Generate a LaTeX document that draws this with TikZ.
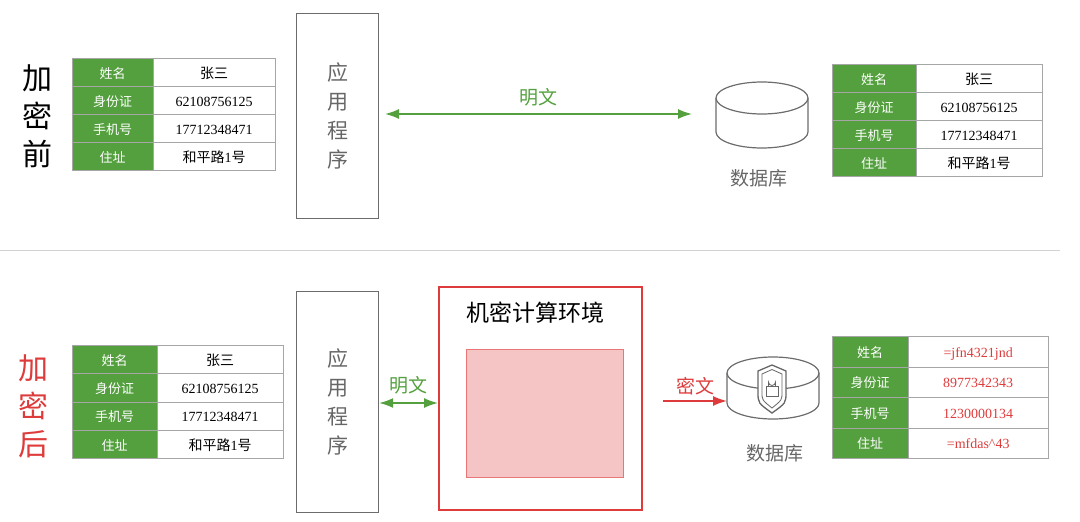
\documentclass[tikz,border=0pt]{standalone}
\usepackage{fontspec}
\setmainfont{Liberation Serif}
\newfontfamily\cjk{Noto Sans CJK SC}
\usetikzlibrary{arrows.meta,positioning}
\definecolor{tgreen}{RGB}{84,160,62}
\definecolor{ared}{RGB}{222,60,60}
\tikzset{
  keycell/.style={rectangle, draw=gray!70, fill=tgreen, text=white, font=\cjk\fontsize{13}{13}\selectfont, inner sep=0pt, text height=14pt, text depth=2pt},
  valcell/.style={rectangle, draw=gray!70, fill=white, font=\fontsize{14}{14}\selectfont, inner sep=0pt, text height=14pt, text depth=2pt},
  appbox/.style={rectangle, draw=gray!85!black, line width=1.2pt, inner sep=0pt},
  vtext/.style={font=\cjk\fontsize{21}{29}\selectfont, text=gray!80!black, align=center},
  dblabel/.style={font=\cjk\fontsize{19}{19}\selectfont, text=gray!80!black},
  dbline/.style={draw=gray!85!black, line width=1.2pt, fill=white},
  twoway/.style={{Latex[length=14pt,width=10pt]}-{Latex[length=14pt,width=10pt]}, line width=1.6pt, tgreen}
}
% table: x0 y0 key-width val-width row-height name value-colour keys values
\newcommand{\infotable}[9]{%
  \foreach \k [count=\i] in {#8} {
    \node[keycell, minimum width=#3pt, minimum height=#5pt, anchor=north west] (#6k\i) at (#1, {#2+(\i-1)*#5}) {\k};
  }
  \foreach \v [count=\i] in {#9} {
    \node[valcell, text=#7, minimum width=#4pt, minimum height=#5pt, anchor=north west] (#6v\i) at ({#1+#3}, {#2+(\i-1)*#5}) {\v};
  }
}
% cylinder: cx top bottom rx ry
\newcommand{\dbdrum}[5]{%
  \draw[dbline] ({#1-#4},#2) -- ({#1-#4},#3) arc[start angle=180, end angle=0, x radius=#4, y radius=#5] -- ({#1+#4},#2);
  \draw[dbline] (#1,#2) ellipse[x radius=#4, y radius=#5];
}
\begin{document}
\begin{tikzpicture}[x=1pt,y=-1pt]
\useasboundingbox (0,0) rectangle (1080,522);

% before encryption
\node[font=\cjk\fontsize{30}{38}\selectfont, align=center] (before) at (37,116) {加\\密\\前};
\infotable{72}{58}{81}{122}{28}{tl}{black}{姓名,身份证,手机号,住址}{{\cjk 张三},62108756125,17712348471,{\cjk 和平路}1{\cjk 号}}
\node[appbox, minimum width=82pt, minimum height=205pt, anchor=north west] (app1) at (296,13) {};
\node[vtext] at (app1) {应\\用\\程\\序};
\dbdrum{762}{98}{132}{46}{16}
\coordinate (db1) at (692,114);
\node[dblabel] (db1l) at (759,178) {数据库};
\coordinate (a1l) at (385,114);
\draw[twoway] (a1l) -- node[above=4pt, font=\cjk\fontsize{19}{19}\selectfont] {明文} (db1);
\infotable{832}{64}{84}{126}{28}{tr}{black}{姓名,身份证,手机号,住址}{{\cjk 张三},62108756125,17712348471,{\cjk 和平路}1{\cjk 号}}

\draw[gray!35, line width=0.8pt] (0,250) -- (1060,250);

% after encryption
\node[font=\cjk\fontsize{30}{38}\selectfont, align=center, text=ared] (after) at (33,406) {加\\密\\后};
\infotable{72}{345}{85}{126}{28.3}{bl}{black}{姓名,身份证,手机号,住址}{{\cjk 张三},62108756125,17712348471,{\cjk 和平路}1{\cjk 号}}
\node[appbox, minimum width=82pt, minimum height=221pt, anchor=north west] (app2) at (296,291) {};
\node[vtext] at (app2) {应\\用\\程\\序};
\node[rectangle, draw=ared, line width=2pt, minimum width=203pt, minimum height=223pt, anchor=north west] (env) at (438,286) {};
\node[font=\cjk\fontsize{23}{23}\selectfont] (envl) at (535,313) {机密计算环境};
\node[rectangle, draw=ared!70, fill=ared!30, line width=1pt, minimum width=157pt, minimum height=128pt, anchor=north west] (core) at (466,349) {};
\draw[twoway] (app2.east |- 0,403) -- node[above=5pt, font=\cjk\fontsize{19}{19}\selectfont] {明文} (env.west |- 0,403);
\dbdrum{773}{373}{403}{46}{16}
\coordinate (db2) at (727,401);
% shield with lock
\draw[gray!80!black, line width=1.3pt, fill=white] (758,371) -- (772,365) -- (786,371) -- (786,392) .. controls (786,403) .. (772,413) .. controls (758,403) .. (758,392) -- cycle;
\draw[gray!80!black, line width=0.8pt] (762,374) -- (772,369.5) -- (782,374) -- (782,392) .. controls (782,400) .. (772,408) .. controls (762,400) .. (762,392) -- cycle;
\draw[gray!80!black, line width=0.8pt, fill=white] (766,386) rectangle (778,396);
\draw[gray!80!black, line width=0.8pt] (768.5,386) -- (768.5,382) arc[start angle=180, end angle=0, radius=3.5] -- (775.5,386);
\node[dblabel] (db2l) at (775,453) {数据库};
\coordinate (a2l) at (663,401);
\draw[-{Latex[length=14pt,width=10pt]}, line width=1.6pt, ared] (a2l) -- node[above=2pt, font=\cjk\fontsize{19}{19}\selectfont] {密文} (db2);
\infotable{832}{336}{76}{140}{30.5}{br}{ared}{姓名,身份证,手机号,住址}{=jfn4321jnd,8977342343,1230000134,=mfdas\textasciicircum43}
\end{tikzpicture}
\end{document}
